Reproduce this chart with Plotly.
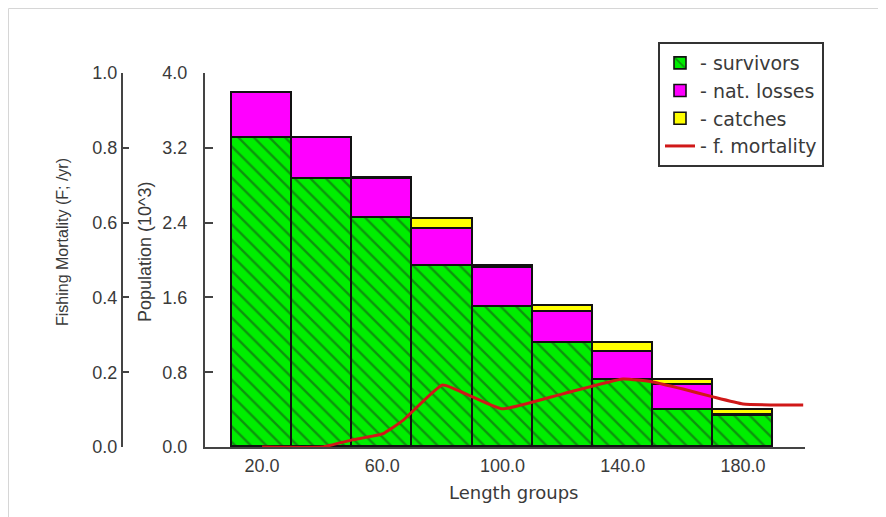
import plotly.graph_objects as go

# ---- data ----
length_groups = [20, 40, 60, 80, 100, 120, 140, 160, 180]
survivors = [3.30, 2.87, 2.45, 1.94, 1.50, 1.11, 0.72, 0.40, 0.33]
nat_losses = [0.49, 0.43, 0.42, 0.39, 0.41, 0.33, 0.30, 0.26, 0.01]
catches = [0.00, 0.00, 0.01, 0.11, 0.03, 0.07, 0.09, 0.06, 0.06]

f_length = [20, 40, 50, 60, 67, 80, 90, 100, 120, 140, 150, 160, 170, 180, 200]
f_mortality = [0.0, 0.0, 0.019, 0.035, 0.072, 0.166, 0.134, 0.102, 0.142, 0.182, 0.174, 0.155, 0.134, 0.115, 0.112]

x_ticks = [20, 60, 100, 140, 180]
pop_ticks = [0.0, 0.8, 1.6, 2.4, 3.2, 4.0]
pop_labels = ["0.0", "0.8", "1.6", "2.4", "3.2", "4.0"]
f_ticks = [0.0, 0.2, 0.4, 0.6, 0.8, 1.0]

FONT = "Liberation Sans, Arial, sans-serif"
WIDE = "DejaVu Sans, Verdana, sans-serif"
TXT = "#3a3a3a"
AX = "#444444"

fig = go.Figure()
outline = dict(color="#111111", width=1.6)
fig.add_trace(go.Bar(
    x=length_groups, y=survivors, width=20, name="- survivors", legendgroup="a",
    marker=dict(color="#00ee00", line=outline,
                pattern=dict(shape="\\", fgcolor="#1a3a1a", bgcolor="#00ee00", size=11, solidity=0.22)),
))
fig.add_trace(go.Bar(
    x=length_groups, y=nat_losses, width=20, name="- nat. losses", legendgroup="b",
    marker=dict(color="#ff00ff", line=outline),
))
fig.add_trace(go.Bar(
    x=length_groups, y=catches, width=20, name="- catches", legendgroup="c",
    marker=dict(color="#ffff00", line=outline),
))
fig.add_trace(go.Scatter(
    x=f_length, y=f_mortality, yaxis="y2", mode="lines", name="- f. mortality", legendgroup="d",
    line=dict(color="#d01818", width=3, shape="spline", smoothing=0.4),
))

# page has an 8px body margin: figure origin sits at page (8, 8)
OFF = 8
W, H = 886 - OFF, 517 - OFF
L, R, T, B = 122 - OFF, 886 - 805, 73 - OFF, 517 - 447
pw, ph = W - L - R, H - T - B
def px(xp):
    return (xp - OFF - L) / pw
def py(yp):
    return (H - B - (yp - OFF)) / ph

fig.update_layout(
    width=W, height=H,
    margin=dict(l=L, r=R, t=T, b=B),
    paper_bgcolor="white", plot_bgcolor="white",
    barmode="stack", bargap=0,
    font=dict(family=FONT, size=18, color=TXT),
    showlegend=True,
    legend=dict(
        x=px(658), y=py(42), xanchor="left", yanchor="top",
        bordercolor="#333333", borderwidth=2, bgcolor="white",
        font=dict(size=19, color=TXT, family=WIDE),
        traceorder="grouped", tracegroupgap=0,
        itemwidth=30,
    ),
    xaxis=dict(
        domain=[px(205), 1], range=[1, 200.6],
        tickvals=x_ticks, tickformat=".1f", ticks="",
        showline=True, linecolor=AX, linewidth=2,
        showgrid=False, zeroline=False,
        tickfont=dict(size=18, color=TXT),
        ticklabelstandoff=1,
    ),
    yaxis=dict(
        range=[0, 4.0], tickvals=pop_ticks, ticktext=pop_labels,
        ticks="inside", ticklen=8, tickwidth=1.5, tickcolor=AX,
        showline=True, linecolor=AX, linewidth=2,
        showgrid=False, zeroline=False,
        tickfont=dict(size=18, color=TXT),
        ticklabelstandoff=12,
    ),
    yaxis2=dict(
        range=[0, 1.0], tickvals=f_ticks, tickformat=".1f",
        overlaying="y", anchor="free", position=0, side="left",
        ticks="inside", ticklen=6, tickwidth=1.5, tickcolor=AX,
        showline=True, linecolor=AX, linewidth=2,
        showgrid=False, zeroline=False,
        tickfont=dict(size=18, color=TXT),
    ),
    annotations=[
        dict(text="Fishing Mortality (F; /yr)", textangle=-90, x=px(62), y=py(242),
             xanchor="center", yanchor="middle",
             xref="paper", yref="paper", showarrow=False, font=dict(size=16, color=TXT)),
        dict(text="Population (10^3)", textangle=-90, x=px(145), y=py(252),
             xanchor="center", yanchor="middle",
             xref="paper", yref="paper", showarrow=False, font=dict(size=18, color=TXT)),
        dict(text="Length groups", x=px(513), y=py(492),
             xanchor="center", yanchor="middle",
             xref="paper", yref="paper", showarrow=False, font=dict(size=18, color=TXT, family=WIDE)),
    ],
    shapes=[
        dict(type="rect", xref="paper", yref="paper", x0=px(8.5), x1=px(900), y0=py(530), y1=py(8.5),
             line=dict(color="#d6d6d6", width=1), fillcolor="rgba(0,0,0,0)", layer="below"),
    ],
)

fig.write_html("out.html")
